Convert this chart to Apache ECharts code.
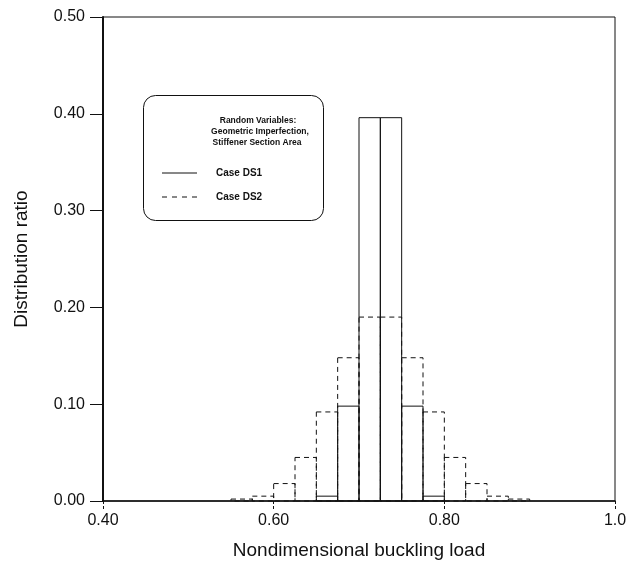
<!DOCTYPE html>
<html>
<head>
<meta charset="utf-8">
<script src="https://cdn.jsdelivr.net/npm/echarts@6/dist/echarts.min.js"></script>
<style>
html,body{margin:0;padding:0;background:#fff;}
#chart{width:637px;height:565px;}
</style>
</head>
<body>
<div id="chart"></div>
<script>
// Histogram bin edges (nondimensional buckling load)
const binEdges = [0.55, 0.575, 0.60, 0.625, 0.65, 0.675, 0.70, 0.725, 0.75, 0.775, 0.80, 0.825, 0.85, 0.875, 0.90];
// Distribution ratio per bin
const ds1Values = [0, 0, 0, 0, 0.005, 0.098, 0.396, 0.396, 0.098, 0.005, 0, 0, 0, 0];
const ds2Values = [0.002, 0.005, 0.018, 0.045, 0.092, 0.148, 0.19, 0.19, 0.148, 0.092, 0.045, 0.018, 0.005, 0.002];
const xTicks = [0.40, 0.60, 0.80, 1.0];
const yTicks = [0.00, 0.10, 0.20, 0.30, 0.40, 0.50];
const seriesNames = ['Case DS1', 'Case DS2'];
const boxTitle = ['Random Variables:', 'Geometric Imperfection,', 'Stiffener Section Area'];

function toBins(vals) {
  const out = [];
  vals.forEach((v, i) => { if (v > 0) out.push([binEdges[i], binEdges[i + 1], v]); });
  return out;
}

function makeRender(dash) {
  return function (params, api) {
    const p0 = api.coord([api.value(0), api.value(2)]);
    const p1 = api.coord([api.value(1), 0]);
    return {
      type: 'rect',
      shape: { x: p0[0], y: p0[1], width: p1[0] - p0[0], height: p1[1] - p0[1] },
      style: { fill: 'none', stroke: '#111', lineWidth: 1, lineDash: dash }
    };
  };
}

const chart = echarts.init(document.getElementById('chart'), null, { renderer: 'canvas' });
const font = 'Liberation Sans, Arial, sans-serif';

const option = {
  backgroundColor: '#fff',
  animation: false,
  grid: { left: 103, right: 22, top: 17, bottom: 63, show: true, borderColor: '#111', borderWidth: 1 },
  xAxis: {
    type: 'value', min: xTicks[0], max: xTicks[xTicks.length - 1], interval: 0.2,
    name: 'Nondimensional buckling load', nameLocation: 'middle', nameGap: 40,
    nameTextStyle: { fontFamily: font, fontSize: 19, color: '#111' },
    axisLine: { show: true, lineStyle: { color: '#111', width: 1.5 } },
    axisTick: { show: true, inside: false, length: 8, lineStyle: { color: '#111', type: [3, 2] } },
    axisLabel: { margin: 12, fontFamily: font, fontSize: 16, color: '#111',
      formatter: v => (Math.abs(v - 1) < 1e-9 ? '1.0' : v.toFixed(2)) },
    splitLine: { show: false }
  },
  yAxis: {
    type: 'value', min: yTicks[0], max: yTicks[yTicks.length - 1], interval: 0.1,
    name: 'Distribution ratio', nameLocation: 'middle', nameGap: 72,
    nameTextStyle: { fontFamily: font, fontSize: 19, color: '#111' },
    axisLine: { show: true, lineStyle: { color: '#111', width: 2 } },
    axisTick: { show: true, length: 13, lineStyle: { color: '#111' } },
    axisLabel: { margin: 18, fontFamily: font, fontSize: 16, color: '#111', formatter: v => v.toFixed(2) },
    splitLine: { show: false }
  },
  series: [
    { name: seriesNames[0], type: 'custom', renderItem: makeRender(null), data: toBins(ds1Values),
      encode: { x: [0, 1], y: 2 }, z: 3 },
    { name: seriesNames[1], type: 'custom', renderItem: makeRender([5, 4]), data: toBins(ds2Values),
      encode: { x: [0, 1], y: 2 }, z: 2 }
  ],
  graphic: [
    { type: 'rect', left: 143, top: 95, shape: { width: 180, height: 125, r: 12 },
      style: { fill: '#fff', stroke: '#111', lineWidth: 1 }, z: 10 },
    { type: 'text', x: 258, y: 121, style: { text: boxTitle[0], font: 'bold 8.5px ' + font, fill: '#111', align: 'center', verticalAlign: 'middle' }, z: 11 },
    { type: 'text', x: 260, y: 132, style: { text: boxTitle[1], font: 'bold 8.5px ' + font, fill: '#111', align: 'center', verticalAlign: 'middle' }, z: 11 },
    { type: 'text', x: 257, y: 143, style: { text: boxTitle[2], font: 'bold 8.5px ' + font, fill: '#111', align: 'center', verticalAlign: 'middle' }, z: 11 },
    { type: 'line', shape: { x1: 162, y1: 173, x2: 197, y2: 173 }, style: { stroke: '#111', lineWidth: 1 }, z: 11 },
    { type: 'text', x: 216, y: 173, style: { text: seriesNames[0], font: 'bold 10px ' + font, fill: '#111', align: 'left', verticalAlign: 'middle' }, z: 11 },
    { type: 'line', shape: { x1: 162, y1: 197, x2: 197, y2: 197 }, style: { stroke: '#111', lineWidth: 1, lineDash: [5, 5] }, z: 11 },
    { type: 'text', x: 216, y: 197, style: { text: seriesNames[1], font: 'bold 10px ' + font, fill: '#111', align: 'left', verticalAlign: 'middle' }, z: 11 }
  ]
};
chart.setOption(option);
</script>
</body>
</html>
